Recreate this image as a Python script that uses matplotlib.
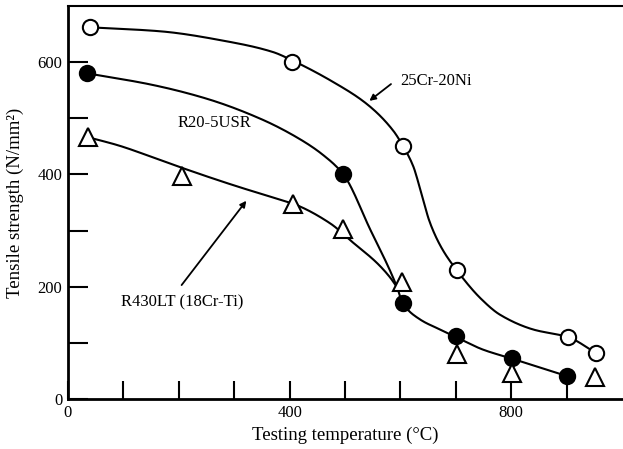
import numpy as np
import matplotlib
matplotlib.use('Agg')
import matplotlib.pyplot as plt

plt.rcParams['font.family'] = ['Liberation Serif', 'DejaVu Serif']

# measured points (temperature in degC, tensile strength in N/mm2)
temp_25cr = [40, 405, 605, 702, 903, 953]
ts_25cr = [662, 600, 450, 229, 110, 82]

temp_r20 = [35, 497, 604, 701, 801, 900]
ts_r20 = [580, 400, 171, 113, 73, 41]

temp_r430 = [37, 205, 406, 496, 603, 702, 801, 951]
ts_r430 = [466, 398, 348, 302, 208, 81, 46, 40]

# hand-drawn trend curves
curve_25cr_x = [40, 166, 287, 370, 405, 478, 540, 587, 605, 623, 639, 653, 675, 702, 746, 780, 839, 903, 953]
curve_25cr_y = [662, 655, 637, 618, 603, 565, 525, 478, 450, 415, 362, 315, 268, 229, 178, 150, 124, 110, 82]

curve_r20_x = [35, 150, 250, 350, 420, 460, 497, 545, 594, 604, 635, 671, 701, 749, 801, 900]
curve_r20_y = [580, 560, 535, 498, 462, 435, 400, 303, 199, 171, 142, 124, 110, 88, 72, 41]

curve_r430_x = [37, 90, 160, 205, 298, 383, 406, 473, 514, 558, 581, 594]
curve_r430_y = [466, 452, 428, 412, 381, 355, 348, 313, 279, 242, 217, 199]

x_major = [0, 400, 800]
x_minor = [100, 200, 300, 500, 600, 700, 900]
y_major = [0, 200, 400, 600]
y_minor = [100, 300, 500]


def pchip(x, y, xs):
    # monotone cubic through the traced points
    x = np.asarray(x, float)
    y = np.asarray(y, float)
    h = np.diff(x)
    d = np.diff(y) / h
    m = np.zeros_like(y)
    m[0], m[-1] = d[0], d[-1]
    for k in range(1, len(x) - 1):
        if d[k - 1] * d[k] > 0:
            w1 = 2 * h[k] + h[k - 1]
            w2 = h[k] + 2 * h[k - 1]
            m[k] = (w1 + w2) / (w1 / d[k - 1] + w2 / d[k])
    i = np.clip(np.searchsorted(x, xs) - 1, 0, len(x) - 2)
    t = (xs - x[i]) / h[i]
    h00 = 2 * t**3 - 3 * t**2 + 1
    h10 = t**3 - 2 * t**2 + t
    h01 = -2 * t**3 + 3 * t**2
    h11 = t**3 - t**2
    return h00 * y[i] + h10 * h[i] * m[i] + h01 * y[i + 1] + h11 * h[i] * m[i + 1]


fig = plt.figure(figsize=(6.23, 4.49), dpi=100)
ax = fig.add_axes([68 / 623, 50 / 449, 554 / 623, 393 / 449])

for cx, cy in [(curve_25cr_x, curve_25cr_y), (curve_r20_x, curve_r20_y), (curve_r430_x, curve_r430_y)]:
    xs = np.linspace(cx[0], cx[-1], 400)
    ax.plot(xs, pchip(cx, cy, xs), color='black', lw=1.5, zorder=2)

ax.plot(temp_25cr, ts_25cr, 'o', ms=11, mfc='white', mec='black', mew=1.5, zorder=3)
ax.plot(temp_r20, ts_r20, 'o', ms=11, mfc='black', mec='black', mew=1.5, zorder=3)
ax.plot(temp_r430, ts_r430, '^', ms=13, mfc='white', mec='black', mew=1.5, zorder=3)

ax.text(599, 567, '25Cr-20Ni', fontsize=12, ha='left', va='center')
ax.annotate('', xy=(540, 528), xytext=(587, 564),
            arrowprops=dict(arrowstyle='-|>', color='black', lw=1.3, mutation_scale=9))
ax.text(265, 491, 'R20-5USR', fontsize=12, ha='center', va='center')
ax.text(206, 172, 'R430LT (18Cr-Ti)', fontsize=12, ha='center', va='center')
ax.annotate('', xy=(325, 357), xytext=(202, 199),
            arrowprops=dict(arrowstyle='-|>', color='black', lw=1.3, mutation_scale=9))

ax.set_xlim(0, 1000)
ax.set_ylim(0, 700)
ax.set_xticks(x_major)
ax.set_xticks(x_minor, minor=True)
ax.set_yticks(y_major)
ax.set_yticks(y_minor, minor=True)
ax.tick_params(axis='both', which='both', direction='in', width=1.5, labelsize=12, pad=4)
ax.tick_params(axis='x', which='both', length=13)
ax.tick_params(axis='y', which='both', length=14.5)

ax.spines['right'].set_visible(False)
ax.spines['left'].set_linewidth(2)
ax.spines['bottom'].set_linewidth(2)
ax.spines['top'].set_linewidth(1.5)

ax.set_xlabel('Testing temperature (°C)', fontsize=13.5)
ax.set_ylabel('Tensile strength (N/mm²)', fontsize=13.5)
ax.xaxis.set_label_coords(0.5, -0.07)
ax.yaxis.set_label_coords(-0.08, 0.5)

fig.savefig('out.png', dpi=100)
